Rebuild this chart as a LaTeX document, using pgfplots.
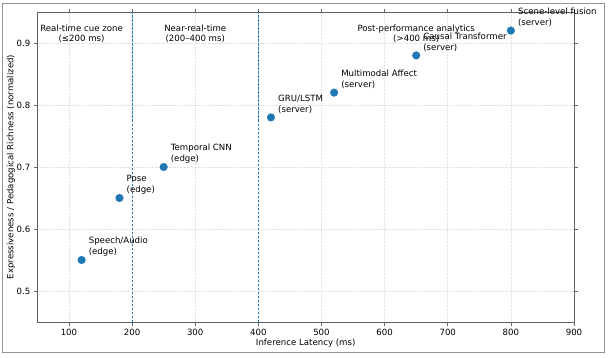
\documentclass[border=0pt]{standalone}
\usepackage{fontspec}
\setmainfont{DejaVu Sans}
\usepackage{pgfplots}
\pgfplotsset{compat=1.18}
\definecolor{tabblue}{HTML}{1F77B4}
\newcommand\fs{\fontsize{8.6bp}{10.3bp}\selectfont}
\tikzset{
  lbl/.style={anchor=south west, align=left, inner sep=0pt, xshift=7bp, yshift=4bp, font=\fs},
  zone/.style={anchor=north, align=center, inner sep=0pt, font=\fs},
}
\begin{document}
\begin{tikzpicture}[x=1bp,y=1bp]
\path[use as bounding box] (0,0) rectangle (608,357);
\draw[gray!85, line width=0.9bp] (2,5) rectangle (604,354);
\begin{axis}[
  at={(37.4bp,35bp)}, anchor=south west,
  scale only axis, width=536.6bp, height=310bp,
  xmin=50, xmax=900, ymin=0.45, ymax=0.95,
  xtick={100,200,...,900}, ytick={0.5,0.6,0.7,0.8,0.9},
  yticklabel style={/pgf/number format/fixed, /pgf/number format/precision=1},
  /pgf/number format/assume math mode=true,
  ticklabel style={font=\fs},
  label style={font=\fs},
  tick align=outside, major tick length=3.5bp,
  tick style={gray!80!black, line width=0.6bp},
  axis line style={gray!75!black, line width=0.9bp},
  grid=major, grid style={densely dotted, gray!22, line width=0.5bp},
  xlabel={Inference Latency (ms)},
  ylabel={Expressiveness / Pedagogical Richness (normalized)},
  xlabel style={at={(axis description cs:0.5,-0.068)}, anchor=center},
  ylabel style={at={(axis description cs:-0.049,0.5)}, anchor=center},
  clip=false,
]
\addplot[tabblue, dash pattern=on 2.5bp off 1.5bp, line width=0.7bp] coordinates {(200,0.45) (200,0.95)};
\addplot[tabblue, dash pattern=on 2.5bp off 1.5bp, line width=0.7bp] coordinates {(400,0.45) (400,0.95)};
\addplot[only marks, mark=*, mark size=3.9bp, mark options={fill=tabblue, draw=tabblue, line width=0.2bp}] coordinates {
  (120,0.55) (180,0.65) (250,0.70) (420,0.78) (520,0.82) (650,0.88) (800,0.92)
};
\node[lbl] at (axis cs:120,0.55) {Speech/Audio\\(edge)};
\node[lbl] at (axis cs:180,0.65) {Pose\\(edge)};
\node[lbl] at (axis cs:250,0.70) {Temporal CNN\\(edge)};
\node[lbl] at (axis cs:420,0.78) {GRU/LSTM\\(server)};
\node[lbl] at (axis cs:520,0.82) {Multimodal Affect\\(server)};
\node[lbl] at (axis cs:650,0.88) {Causal Transformer\\(server)};
\node[lbl] at (axis cs:800,0.92) {Scene-level fusion\\(server)};
\node[zone] at (axis cs:120,0.93) {Real-time cue zone\\(≤200 ms)};
\node[zone] at (axis cs:300,0.93) {Near-real-time\\(200–400 ms)};
\node[zone] at (axis cs:650,0.93) {Post-performance analytics\\(>400 ms)};
\end{axis}
\end{tikzpicture}
\end{document}
